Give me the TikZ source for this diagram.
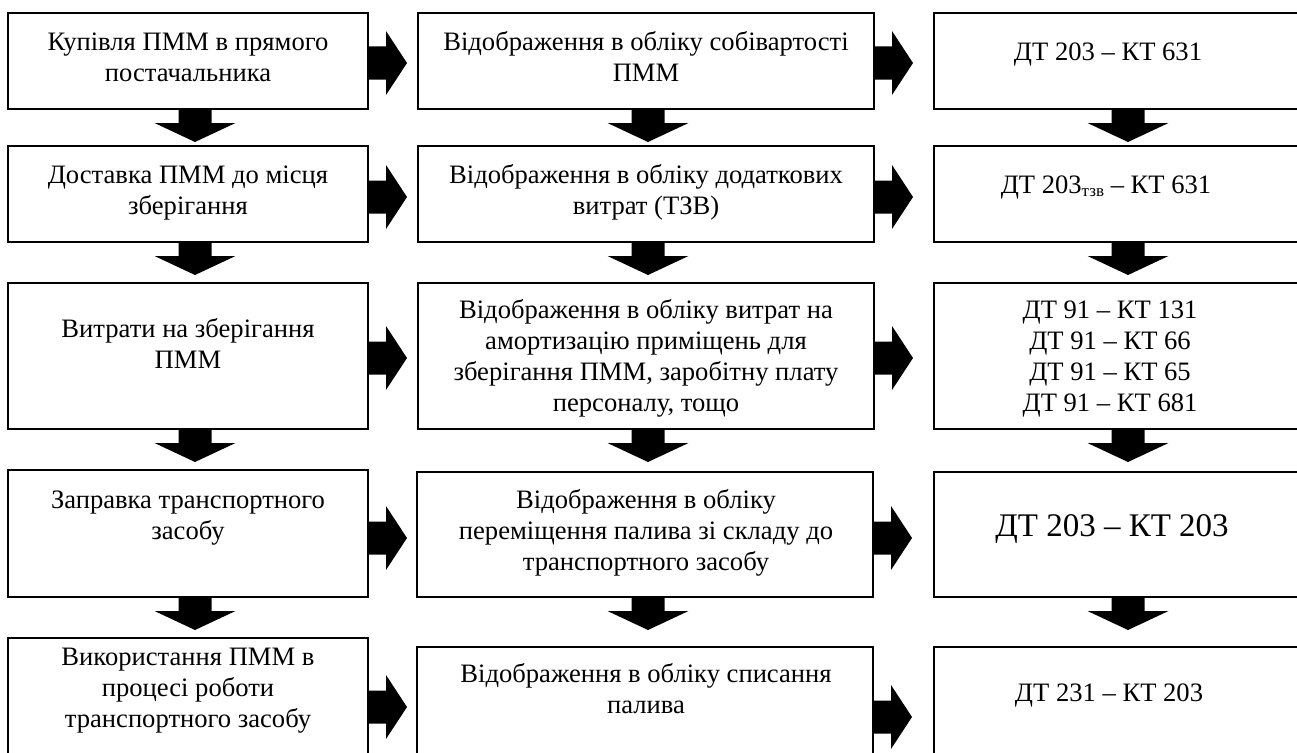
\documentclass[tikz,border=0pt]{standalone}
\usepackage{fontspec}
\setmainfont{Liberation Serif}
\usetikzlibrary{calc}
\tikzset{
  box/.style={draw=black, line width=2pt, inner sep=0pt, outer sep=0pt, rectangle},
  txt/.style={font=\fontsize{26.6}{31}\selectfont, align=center, inner sep=0pt, anchor=north},
  txtbase/.style={font=\fontsize{26.6}{31}\selectfont, inner sep=0pt, anchor=base},
  bigtxt/.style={font=\fontsize{33}{38}\selectfont, inner sep=0pt, anchor=base},
  blockarrow/.style={fill=black, draw=none}
}
\newcommand\blockright[2]{\fill[blockarrow] ($(#1.east)+(0,#2)$) ++(0,-16.5) -- ++(18,0) -- ++(0,-15.5) -- ++(21,32) -- ++(-21,32) -- ++(0,-15.5) -- ++(-18,0) -- cycle;}
\newcommand\blockdown[2]{\fill[blockarrow] ($(#1.south)+(#2,0)$) ++(-16.5,0) -- ++(0,14) -- ++(-24,0) -- ++(40.5,19) -- ++(40.5,-19) -- ++(-24,0) -- ++(0,-14) -- cycle;}
\begin{document}
\begin{tikzpicture}[x=1pt, y=-1pt]
\useasboundingbox (0,0) rectangle (1297,752);
\fill[white] (0,0) rectangle (1297,752);
% boxes
\node[box, minimum width=360pt, minimum height=96pt] (b11) at (188,61) {};
\node[box, minimum width=456pt, minimum height=96pt] (b12) at (646,61) {};
\node[box, minimum width=388pt, minimum height=96pt] (b13) at (1128,61) {};
\node[box, minimum width=360pt, minimum height=96pt] (b21) at (188,194) {};
\node[box, minimum width=456pt, minimum height=96pt] (b22) at (646,194) {};
\node[box, minimum width=388pt, minimum height=96pt] (b23) at (1128,194) {};
\node[box, minimum width=360pt, minimum height=146pt] (b31) at (188,356) {};
\node[box, minimum width=456pt, minimum height=146pt] (b32) at (646,356) {};
\node[box, minimum width=388pt, minimum height=146pt] (b33) at (1128,356) {};
\node[box, minimum width=360pt, minimum height=127pt] (b41) at (188,533.5) {};
\node[box, minimum width=456pt, minimum height=125pt] (b42) at (645,534.5) {};
\node[box, minimum width=388pt, minimum height=125pt] (b43) at (1128,534.5) {};
\node[box, minimum width=360pt, minimum height=152pt] (b51) at (188,714) {};
\node[box, minimum width=456pt, minimum height=143pt] (b52) at (645,718.5) {};
\node[box, minimum width=388pt, minimum height=143pt] (b53) at (1128,718.5) {};
% texts
\node[txt] (t11) at (188,{50-21.7}) {\strut Купівля ПММ в прямого\\постачальника};
\node[txt] (t12) at (646,{50-21.7}) {\strut Відображення в обліку собівартості\\ПММ};
\node[txtbase] (t13) at (1108,60) {ДТ 203 – КТ 631};
\node[txt] (t21) at (188,{183-21.7}) {\strut Доставка ПММ до місця\\зберігання};
\node[txt] (t22) at (646,{183-21.7}) {\strut Відображення в обліку додаткових\\витрат (ТЗВ)};
\node[txtbase] (t23) at (1106,193) {ДТ 203\raisebox{-3pt}{\fontsize{17}{17}\selectfont тзв} – КТ 631};
\node[txt] (t31) at (188,{337-21.7}) {\strut Витрати на зберігання\\ПММ};
\node[txt] (t32) at (646,{318-21.7}) {\strut Відображення в обліку витрат на\\амортизацію приміщень для\\зберігання ПММ, заробітну плату\\персоналу, тощо};
\node[txt] (t33) at (1110,{318-21.7}) {\strut ДТ 91 – КТ 131\\ДТ 91 – КТ 66\\ДТ 91 – КТ 65\\ДТ 91 – КТ 681};
\node[txt] (t41) at (188,{508-21.7}) {\strut Заправка транспортного\\засобу};
\node[txt] (t42) at (646,{508-21.7}) {\strut Відображення в обліку\\переміщення палива зі складу до\\транспортного засобу};
\node[bigtxt] (t43) at (1112,536) {ДТ 203 – КТ 203};
\node[txt] (t51) at (188,{665-21.7}) {\strut Використання ПММ в\\процесі роботи\\транспортного засобу};
\node[txt] (t52) at (646,{682-21.7}) {\strut Відображення в обліку списання\\палива};
\node[txtbase] (t53) at (1109,701) {ДТ 231 – КТ 203};
% right block arrows
\blockright{b11}{2}
\blockright{b12}{2}
\blockright{b21}{3}
\blockright{b22}{3}
\blockright{b31}{2}
\blockright{b32}{2}
\blockright{b41}{4.5}
\blockright{b42}{3.5}
\blockright{b51}{-7}
\blockright{b52}{-1.5}
% down block arrows
\blockdown{b11}{7}
\blockdown{b21}{7}
\blockdown{b31}{7}
\blockdown{b41}{7}
\blockdown{b12}{2}
\blockdown{b22}{2}
\blockdown{b32}{2}
\blockdown{b42}{3}
\blockdown{b13}{0}
\blockdown{b23}{0}
\blockdown{b33}{0}
\blockdown{b43}{0}
\end{tikzpicture}
\end{document}
